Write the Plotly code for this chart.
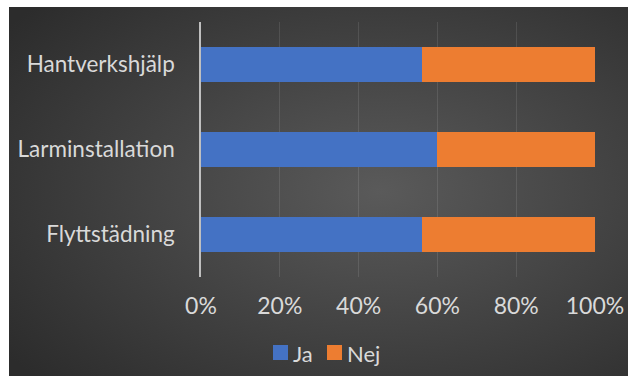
import base64
import plotly.graph_objects as go

# Survey answers per service (share of respondents, %)
categories = ["Flyttstädning", "Larminstallation", "Hantverkshjälp"]
series_names = ["Ja", "Nej"]
ja_values = [56, 60, 56]
nej_values = [44, 40, 44]
series_colors = ["#4472c4", "#ed7d31"]
tick_values = [0, 20, 40, 60, 80, 100]
tick_labels = ["0%", "20%", "40%", "60%", "80%", "100%"]

W, H = 628, 376
L, R, T, B = 201, 33, 22, 99
plot_w, plot_h = W - L - R, H - T - B

FONT = "Lato"
TEXT = "#d9d9d9"

# Dark radial-gradient backdrop for the chart area
svg = (
    '<svg xmlns="http://www.w3.org/2000/svg" width="619" height="369" viewBox="0 0 619 369" preserveAspectRatio="none">'
    '<defs><radialGradient id="g" cx="0.6" cy="0.5" r="0.75" gradientUnits="objectBoundingBox">'
    '<stop offset="0" stop-color="#5a5a5a"/><stop offset="1" stop-color="#2c2c2c"/>'
    '</radialGradient></defs><rect width="619" height="369" fill="url(#g)"/></svg>'
)
bg_src = "data:image/svg+xml;base64," + base64.b64encode(svg.encode()).decode()

def px_x(x):
    return (x - L) / plot_w

def px_y(y):
    return (H - B - y) / plot_h

fig = go.Figure()
for name, vals, col in zip(series_names, [ja_values, nej_values], series_colors):
    fig.add_trace(go.Bar(y=categories, x=vals, name=name, orientation="h",
                         marker=dict(color=col, line=dict(width=0)), showlegend=False))

# Compact legend below the axis: small square swatch + series name
legend_x = [273, 327]
shapes, annotations = [], []
for name, col, lx in zip(series_names, series_colors, legend_x):
    shapes.append(dict(type="rect", xref="paper", yref="paper",
                       x0=px_x(lx), x1=px_x(lx + 15), y0=px_y(360), y1=px_y(345),
                       fillcolor=col, line=dict(width=0)))
    annotations.append(dict(text=name, xref="paper", yref="paper",
                            x=px_x(lx + 18), y=px_y(353), xanchor="left", yanchor="middle",
                            showarrow=False, font=dict(family=FONT, size=22, color=TEXT)))

fig.update_layout(
    width=W, height=H,
    autosize=False,
    margin=dict(l=L, r=R, t=T, b=B, pad=0, autoexpand=False),
    paper_bgcolor="white",
    plot_bgcolor="rgba(0,0,0,0)",
    barmode="stack",
    bargap=0.59,
    font=dict(family=FONT, size=22, color=TEXT),
    showlegend=False,
    shapes=shapes,
    annotations=annotations,
    images=[dict(source=bg_src, xref="paper", yref="paper",
                 x=px_x(9), y=px_y(7), sizex=px_x(628) - px_x(9), sizey=px_y(7) - px_y(376),
                 xanchor="left", yanchor="top", sizing="stretch", layer="below")],
    xaxis=dict(range=[0, 100], tickvals=tick_values, ticktext=tick_labels, automargin=False,
               showgrid=True, gridcolor="rgba(255,255,255,0.10)", gridwidth=1,
               zeroline=False, showline=False, ticks="outside", ticklen=8,
               tickcolor="rgba(0,0,0,0)", tickfont=dict(family=FONT, size=23, color=TEXT),
               fixedrange=True),
    yaxis=dict(range=[-0.5, 2.5], showgrid=False, zeroline=False, automargin=False,
               showline=True, linecolor="#bfbfbf", linewidth=1.5,
               ticks="outside", ticklen=20, tickcolor="rgba(0,0,0,0)",
               tickfont=dict(family=FONT, size=22.5, color=TEXT), fixedrange=True),
)

fig.write_html("out.html")
